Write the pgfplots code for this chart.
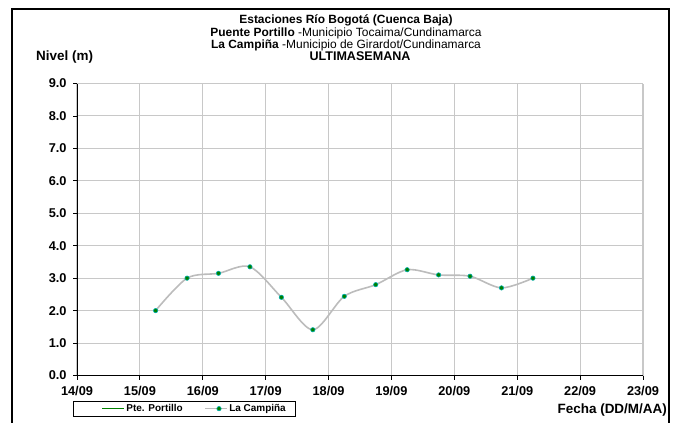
\documentclass[border=0pt]{standalone}
\usepackage{fontspec}
\setmainfont{Liberation Sans}
\usepackage{pgfplots}
\pgfplotsset{compat=1.18}
\definecolor{gridgray}{RGB}{200,200,200}
\definecolor{linegray}{RGB}{188,188,188}
\definecolor{ptegreen}{RGB}{0,128,0}
\definecolor{markcyan}{RGB}{0,175,175}
\newcommand{\tfont}{\fontsize{12}{12}\selectfont}
\newcommand{\afont}{\fontsize{13.5}{13.5}\selectfont}
\begin{document}
\begin{tikzpicture}[x=1bp,y=1bp]
\useasboundingbox (0,0) rectangle (674,422);
\draw[line width=2bp] (12,-10) -- (12,413) -- (669,413) -- (669,-10);
% titles
\node[anchor=base] at (346,398) {\tfont\bfseries Estaciones Río Bogotá (Cuenca Baja)};
\node[anchor=base] at (346,386) {\tfont\textbf{Puente Portillo} -Municipio Tocaima/Cundinamarca};
\node[anchor=base] at (346,374) {\tfont\textbf{La Campiña} -Municipio de Girardot/Cundinamarca};
\node[anchor=base] at (360,362) {\fontsize{12.6}{12.6}\selectfont\bfseries ULTIMASEMANA};
\node[anchor=base west, inner sep=0] at (36,362) {\afont\bfseries Nivel (m)};
\node[anchor=base east, inner sep=0] at (667,9) {\afont\bfseries Fecha (DD/M/AA)};
\begin{axis}[
  at={(77bp,46.5bp)}, anchor=south west,
  scale only axis, width=566bp, height=292bp,
  xmin=14, xmax=23, ymin=0, ymax=9,
  axis x line*=bottom, axis y line*=left,
  axis line style={-, black, line width=0.9bp},
  xtick={14,...,23},
  xticklabels={14/09,15/09,16/09,17/09,18/09,19/09,20/09,21/09,22/09,23/09},
  ytick={0,...,9},
  yticklabels={0.0,1.0,2.0,3.0,4.0,5.0,6.0,7.0,8.0,9.0},
  tick align=outside, major tick length=4bp,
  tick style={black, line width=0.8bp},
  tick label style={font=\fontsize{12.8}{12.8}\selectfont\bfseries},
  xticklabel style={yshift=-3bp},
  yticklabel style={xshift=-3bp},
  grid=major, major grid style={gridgray, line width=1.1bp},
  legend columns=2,
  legend style={at={(-0.007,-0.0873)}, anchor=north west, draw=black,
    line width=0.6bp, font=\fontsize{10}{10}\selectfont\bfseries,
    inner xsep=8bp, inner ysep=1.5bp,
    nodes={inner xsep=1.5bp, inner ysep=1.5bp}},
  legend image code/.code={
    \path (0bp,0) (42bp,0);
    \draw[mark repeat=2, mark phase=2, #1] plot coordinates {(20bp,0) (34bp,0) (42bp,0)};
  },
]
\addlegendimage{ptegreen, line width=1.6bp}
\addlegendentry{Pte. Portillo}
\addplot[linegray, line width=1.6bp, smooth, mark=*, mark size=2.2bp,
  mark options={fill=ptegreen, draw=markcyan, line width=0.6bp}]
  coordinates {
  (15.25,2.00) (15.75,3.00) (16.25,3.15) (16.75,3.35) (17.25,2.41)
  (17.75,1.41) (18.25,2.44) (18.75,2.80) (19.25,3.26) (19.75,3.10)
  (20.25,3.06) (20.75,2.70) (21.25,3.00)};
\addlegendentry{La Campiña}
\end{axis}
\end{tikzpicture}
\end{document}
